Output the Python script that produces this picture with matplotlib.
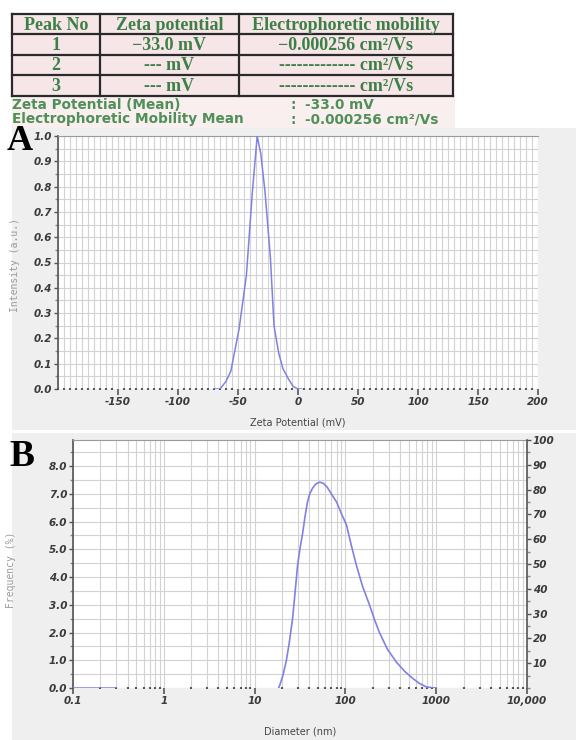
import numpy as np
import matplotlib
matplotlib.use('Agg')
import matplotlib.pyplot as plt
from matplotlib.patches import Rectangle
from matplotlib.ticker import MultipleLocator, FixedLocator, NullFormatter, FuncFormatter

plt.rcParams['axes.unicode_minus'] = False

# table data
table_header = ['Peak No', 'Zeta potential', 'Electrophoretic mobility']
table_rows = [
    ['1', '\u221233.0 mV', '\u22120.000256 cm\u00b2/Vs'],
    ['2', '--- mV', '------------- cm\u00b2/Vs'],
    ['3', '--- mV', '------------- cm\u00b2/Vs'],
]
summary_labels = ['Zeta Potential (Mean)', 'Electrophoretic Mobility Mean']
summary_values = ['-33.0 mV', '-0.000256 cm\u00b2/Vs']

# panel A: zeta potential distribution
zeta_mv = [-70, -65, -60, -56, -49, -43, -38, -34, -31, -27.5, -23, -20, -16, -12.5, -8, -4, 0, 3]
intensity = [0.0, 0.0, 0.03, 0.07, 0.24, 0.45, 0.78, 1.0, 0.93, 0.78, 0.52, 0.25, 0.14, 0.08, 0.04, 0.01, 0.0, 0.0]
zeta_ticks = [-150, -100, -50, 0, 50, 100, 150, 200]

# panel B: size distribution
base_nm = [0.1, 0.2, 0.3]
base_freq = [0.0, 0.0, 0.0]
diameter_nm = [18.4, 19.3, 20.5, 22.4, 24.0, 26.2, 28.0, 29.7, 31.5, 33.7, 36.0, 38.2, 40.5, 43.4,
               47.0, 52.0, 57.0, 63.0, 70.0, 80.0, 90.0, 103, 116, 132, 155, 184, 210, 237, 290,
               363, 450, 545, 650, 777, 900, 1000]
frequency = [0.0, 0.18, 0.45, 1.0, 1.6, 2.5, 3.5, 4.4, 5.0, 5.55, 6.2, 6.7, 7.0, 7.2,
             7.35, 7.42, 7.38, 7.24, 7.0, 6.7, 6.3, 5.87, 5.15, 4.43, 3.65, 3.0, 2.45, 2.0, 1.4,
             0.94, 0.6, 0.36, 0.17, 0.04, 0.01, 0.0]
diam_ticks = [0.1, 1, 10, 100, 1000, 10000]
diam_labels = ['0.1', '1', '10', '100', '1000', '10,000']

W, H = 576, 740
green = '#3d7f46'
line_col = '#7f82e2'
grid_col = '#d2d2d2'
tick_col = '#3a3a3a'
tick_font = dict(fontsize=7.5, fontweight='bold', fontstyle='italic', color=tick_col)


def px_axes(l, t, r, b):
    return [l / W, (H - b) / H, (r - l) / W, (b - t) / H]


fig = plt.figure(figsize=(W / 100, H / 100), dpi=100)
fig.patch.set_facecolor('white')

# background layer in pixel coords
bg = fig.add_axes([0, 0, 1, 1], zorder=0)
bg.set_xlim(0, W)
bg.set_ylim(H, 0)
bg.axis('off')
bg.add_patch(Rectangle((12, 128), W - 12, 302, color='#efefef', lw=0))
bg.add_patch(Rectangle((12, 433), W - 12, H - 433, color='#efefef', lw=0))
bg.add_patch(Rectangle((12, 96), 443, 32, color='#f9efef', lw=0))

# table
col_edges = [12, 100, 239, 453]
row_edges = [14, 34, 54.5, 75, 95.5]
bg.add_patch(Rectangle((col_edges[0], row_edges[0]), col_edges[-1] - col_edges[0],
                       row_edges[-1] - row_edges[0], facecolor='#f6e6e8', lw=0))
for y in row_edges:
    bg.plot([col_edges[0], col_edges[-1]], [y, y], color='#2a2a2a', lw=1.6)
for x in col_edges:
    bg.plot([x, x], [row_edges[0], row_edges[-1]], color='#2a2a2a', lw=1.6)
all_rows = [table_header] + table_rows
for i, row in enumerate(all_rows):
    yc = (row_edges[i] + row_edges[i + 1]) / 2
    for j, txt in enumerate(row):
        xc = (col_edges[j] + col_edges[j + 1]) / 2
        bg.text(xc, yc + 1, txt, ha='center', va='center', color=green,
                family='Liberation Serif', fontweight='bold', fontsize=13)

for i, (lab, val) in enumerate(zip(summary_labels, summary_values)):
    y = 105 + i * 14.5
    bg.text(12, y, lab, ha='left', va='center', color='#4f8f58', family='DejaVu Sans',
            fontweight='bold', fontsize=9.8)
    bg.text(290, y, ':', ha='left', va='center', color='#4f8f58', family='DejaVu Sans',
            fontweight='bold', fontsize=9.8)
    bg.text(305, y, val, ha='left', va='center', color='#4f8f58', family='DejaVu Sans',
            fontweight='bold', fontsize=9.8)

bg.text(7, 150, 'A', ha='left', va='baseline', family='Liberation Serif', fontweight='bold', fontsize=26)
bg.text(9, 466, 'B', ha='left', va='baseline', family='Liberation Serif', fontweight='bold', fontsize=27)

# ---- panel A ----
ax = fig.add_axes(px_axes(58, 136, 538, 389), zorder=1)
ax.set_facecolor('white')
ax.plot(zeta_mv, intensity, color=line_col, lw=1.1, zorder=3)
ax.set_xlim(-200, 200)
ax.set_ylim(0, 1.0)
ax.xaxis.set_major_locator(FixedLocator(zeta_ticks))
ax.xaxis.set_minor_locator(MultipleLocator(5))
ax.yaxis.set_major_locator(MultipleLocator(0.1))
ax.yaxis.set_minor_locator(MultipleLocator(0.05))
ax.yaxis.set_major_formatter(FuncFormatter(lambda v, p: f'{v:.1f}'))
ax.grid(which='both', axis='x', color=grid_col, lw=0.8)
ax.grid(which='both', axis='y', color=grid_col, lw=0.8)
ax.set_axisbelow(True)
for s in ['bottom', 'right']:
    ax.spines[s].set_visible(False)
ax.spines['top'].set_color('#9a9a9a')
ax.spines['left'].set_color('#555555')
ax.spines['left'].set_linewidth(1.2)
ax.tick_params(axis='x', which='major', direction='out', length=4, width=1.2, color='#555555', pad=2)
ax.tick_params(axis='x', which='minor', direction='inout', length=1.8, width=1.5, color='#555555')
ax.tick_params(axis='y', which='major', direction='out', length=3, width=1, color='#555555', pad=1)
ax.tick_params(axis='y', which='minor', direction='out', length=2, width=1, color='#888888')
for lab in ax.get_xticklabels() + ax.get_yticklabels():
    lab.set(**tick_font)
ax.set_xlabel('Zeta Potential (mV)', fontsize=7, color='#444444', family='DejaVu Sans')
ax.xaxis.set_label_coords(0.5, -0.112)
ax.set_ylabel('Intensity (a.u.)', fontsize=7, color='#9a9a9a', family='DejaVu Sans Mono')
ax.yaxis.set_label_coords(-0.079, 0.49)

# ---- panel B ----
bx = fig.add_axes(px_axes(73, 440, 527, 688), zorder=1)
bx.set_facecolor('white')
bx.set_xscale('log')
bx.plot(base_nm, base_freq, color=line_col, lw=1.1, zorder=3)
bx.plot(diameter_nm, frequency, color=line_col, lw=1.2, zorder=3)
bx.set_xlim(0.1, 10000)
bx.set_ylim(0, 8.94)
bx.xaxis.set_major_locator(FixedLocator(diam_ticks))
bx.xaxis.set_major_formatter(FuncFormatter(lambda v, p: diam_labels[diam_ticks.index(v)] if v in diam_ticks else ''))
bx.xaxis.set_minor_locator(FixedLocator([m * 10.0 ** e for e in range(-1, 4) for m in range(2, 10)]))
bx.xaxis.set_minor_formatter(NullFormatter())
bx.yaxis.set_major_locator(MultipleLocator(1.0))
bx.yaxis.set_minor_locator(MultipleLocator(0.5))
bx.yaxis.set_major_formatter(FuncFormatter(lambda v, p: f'{v:.1f}' if v <= 8.01 else ''))
bx.grid(which='both', axis='x', color=grid_col, lw=0.8)
bx.grid(which='both', axis='y', color=grid_col, lw=0.8)
bx.set_axisbelow(True)
bx.spines['bottom'].set_visible(False)
bx.spines['right'].set_visible(False)
bx.spines['top'].set_color('#9a9a9a')
bx.spines['left'].set_color('#555555')
bx.spines['left'].set_linewidth(1.2)
bx.tick_params(axis='x', which='major', direction='out', length=4, width=1.2, color='#555555', pad=2)
bx.tick_params(axis='x', which='minor', direction='inout', length=1.8, width=1.5, color='#555555')
bx.tick_params(axis='y', which='major', direction='out', length=3, width=1, color='#555555', pad=1)
bx.tick_params(axis='y', which='minor', direction='out', length=2, width=1, color='#888888')
for lab in bx.get_xticklabels() + bx.get_yticklabels():
    lab.set(**tick_font)
bx.set_xlabel('Diameter (nm)', fontsize=7, color='#444444', family='DejaVu Sans', va='center')
bx.xaxis.set_label_coords(0.5, -0.177)
bx.set_ylabel('Frequency (%)', fontsize=7, color='#9a9a9a', family='DejaVu Sans Mono')
bx.yaxis.set_label_coords(-0.126, 0.476)

rx = bx.twinx()
rx.set_ylim(0, 100)
rx.yaxis.set_major_locator(FixedLocator(list(range(10, 101, 10))))
rx.yaxis.set_minor_locator(MultipleLocator(5))
for s in ['top', 'left', 'bottom']:
    rx.spines[s].set_visible(False)
rx.spines['right'].set_color('#555555')
rx.spines['right'].set_linewidth(1.2)
rx.tick_params(axis='y', which='major', direction='out', length=3, width=1, color='#555555', pad=1)
rx.tick_params(axis='y', which='minor', direction='out', length=2, width=1, color='#888888')
for lab in rx.get_yticklabels():
    lab.set(**tick_font)

fig.savefig('out.png', dpi=100)
plt.close()
